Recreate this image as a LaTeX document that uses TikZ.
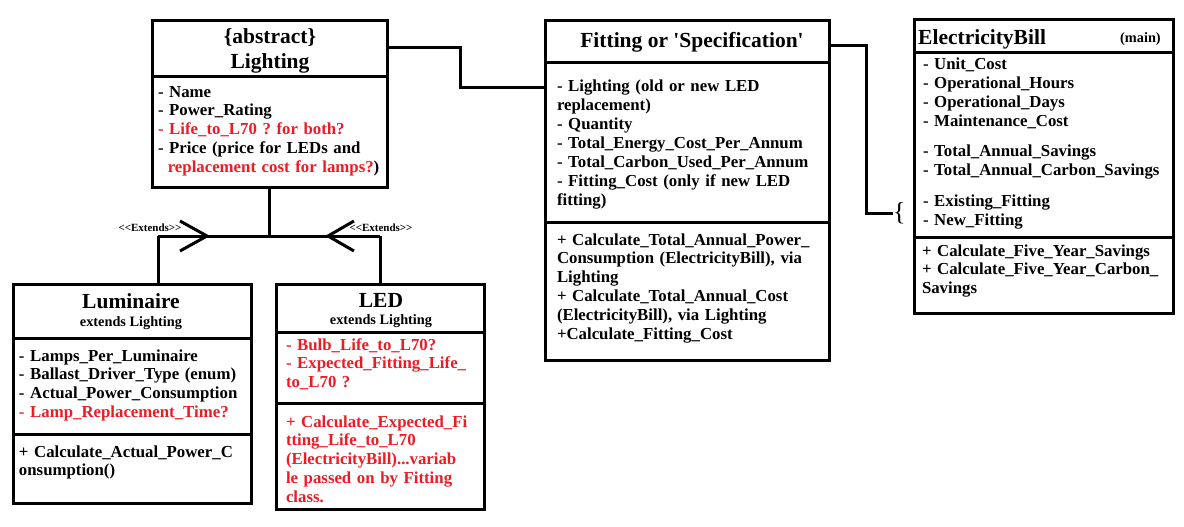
\documentclass[tikz,border=0pt]{standalone}
\usepackage{fontspec}
\setmainfont{Liberation Serif}[Ligatures=TeXOff]
\definecolor{qred}{RGB}{237,28,36}
\newcommand\firstln{\rule{0pt}{13pt}}
\frenchspacing
\begin{document}
\begin{tikzpicture}[x=1pt,y=-1pt,
  box/.style={draw=black, line width=3pt, rectangle, outer sep=0pt, inner sep=0pt, anchor=north west},
  conn/.style={line width=3pt},
  body/.style={anchor=north west, inner sep=0pt, outer sep=0pt, text width=300pt, align=left, font=\frenchspacing\bfseries\fontsize{16.8}{18.9}\selectfont},
  hdr/.style={anchor=base, inner sep=0pt, font=\bfseries\fontsize{21.5}{25}\selectfont},
  subhdr/.style={anchor=base, inner sep=0pt, font=\bfseries\fontsize{14.3}{16}\selectfont},
  extlbl/.style={anchor=base, inner sep=0pt, font=\bfseries\fontsize{11}{12}\selectfont},
  openarrow/.style={line width=3pt, line join=miter}
]
\useasboundingbox (0,0) rectangle (1184,527);
\fill[white] (0,0) rectangle (1184,527);

% ---------- boxes ----------
\node[box, minimum width=235pt, minimum height=166pt] (light) at (152,21) {};
\node[box, minimum width=284pt, minimum height=339pt] (fit) at (545,21) {};
\node[box, minimum width=259pt, minimum height=293pt] (bill) at (914,20) {};
\node[box, minimum width=238pt, minimum height=219pt] (lum) at (13,284) {};
\node[box, minimum width=208pt, minimum height=225pt] (led) at (276,284) {};

% ---------- dividers ----------
\draw[conn] (light.west |- 0,77) -- (light.east |- 0,77);
\draw[conn] (fit.west |- 0,63) -- (fit.east |- 0,63);
\draw[conn] (fit.west |- 0,222) -- (fit.east |- 0,222);
\draw[conn] (bill.west |- 0,53) -- (bill.east |- 0,53);
\draw[conn] (bill.west |- 0,237) -- (bill.east |- 0,237);
\draw[conn] (lum.west |- 0,338) -- (lum.east |- 0,338);
\draw[conn] (lum.west |- 0,434) -- (lum.east |- 0,434);
\draw[conn] (led.west |- 0,332) -- (led.east |- 0,332);
\draw[conn] (led.west |- 0,403) -- (led.east |- 0,403);

% ---------- headers ----------
\node[hdr] (lightA) at (270,44) {\{abstract\}};
\node[hdr] (lightB) at (270,69) {Lighting};
\node[hdr] (fithdr) at (692,48) {Fitting or 'Specification'};
\node[hdr, anchor=base west] (billhdr) at (918,45) {ElectricityBill};
\node[subhdr, anchor=base west] (billmain) at (1120,43) {(main)};
\node[hdr] (lumhdr) at (131,308) {Luminaire};
\node[subhdr] (lumsub) at (131,326) {extends Lighting};
\node[hdr] (ledhdr) at (381,307) {LED};
\node[subhdr] (ledsub) at (381,324) {extends Lighting};

% ---------- bodies ----------
\node[body] (lightattr) at (158,84) {\firstln - Name\\
- Power\_Rating\\
\textcolor{qred}{- Life\_to\_L70 ? for both?}\\
- Price (price for LEDs and\\
\hspace*{0.583em}\textcolor{qred}{replacement cost for lamps?})};

\node[body] (fitattr) at (557,79) {\firstln - Lighting (old or new LED\\
replacement)\\
- Quantity\\
- Total\_Energy\_Cost\_Per\_Annum\\
- Total\_Carbon\_Used\_Per\_Annum\\
- Fitting\_Cost (only if new LED\\
fitting)};

\node[body] (fitmeth) at (557,232) {\firstln + Calculate\_Total\_Annual\_Power\_\\
Consumption (ElectricityBill), via\\
Lighting\\
+ Calculate\_Total\_Annual\_Cost\\
(ElectricityBill), via Lighting\\
+Calculate\_Fitting\_Cost};

\node[body] (billattr) at (923,57) {\firstln - Unit\_Cost\\
- Operational\_Hours\\
- Operational\_Days\\
- Maintenance\_Cost\\[11pt]
- Total\_Annual\_Savings\\
- Total\_Annual\_Carbon\_Savings\\[12pt]
- Existing\_Fitting\\
- New\_Fitting};

\node[body] (billmeth) at (922,243) {\firstln + Calculate\_Five\_Year\_Savings\\
+ Calculate\_Five\_Year\_Carbon\_\\
Savings};

\node[body] (lumattr) at (19,348) {\firstln - Lamps\_Per\_Luminaire\\
- Ballast\_Driver\_Type (enum)\\
- Actual\_Power\_Consumption\\
\textcolor{qred}{- Lamp\_Replacement\_Time?}};

\node[body] (lummeth) at (19,444) {\firstln + Calculate\_Actual\_Power\_C\\
onsumption()};

\node[body, text=qred] (ledattr) at (286,337) {\firstln - Bulb\_Life\_to\_L70?\\
- Expected\_Fitting\_Life\_\\
to\_L70 ?};

\node[body, text=qred] (ledmeth) at (286,414) {\firstln + Calculate\_Expected\_Fi\\
tting\_Life\_to\_L70\\
(ElectricityBill)...variab\\
le passed on by Fitting\\
class.};

% ---------- association Lighting -- Fitting ----------
\coordinate (j1) at (460,48);
\coordinate (j2) at (460,88);
\draw[conn] (light.east |- j1) -- (j1) -- (j2) -- (fit.west |- j2);

% ---------- association Fitting -- ElectricityBill ----------
\node[anchor=base west, inner sep=0pt, font=\fontsize{26}{28}\selectfont] (brace) at (893,220) {\{};
\coordinate (k1) at (866,46);
\coordinate (k2) at (866,213);
\draw[conn] (fit.east |- k1) -- (k1) -- (k2) -- (k2 -| brace.west);

% ---------- inheritance ----------
\coordinate (jn) at (light.south |- 0,236);
\coordinate (ja) at (158,236);
\coordinate (jb) at (380,236);
\draw[conn] (light.south) -- (jn);
\draw[conn] (ja) -- (jb);
\draw[conn] (ja) -- (lum.north -| ja);
\draw[conn] (jb) -- (led.north -| jb);

\coordinate (tipL) at (207,236);
\coordinate (tipR) at (328,236);
\draw[openarrow] (180,221) -- (tipL) -- (180,251);
\draw[openarrow] (354,221) -- (tipR) -- (354,251);

\node[extlbl] (extL) at (150,231) {<<Extends>>};
\node[extlbl] (extR) at (381,231) {<<Extends>>};
\end{tikzpicture}
\end{document}
